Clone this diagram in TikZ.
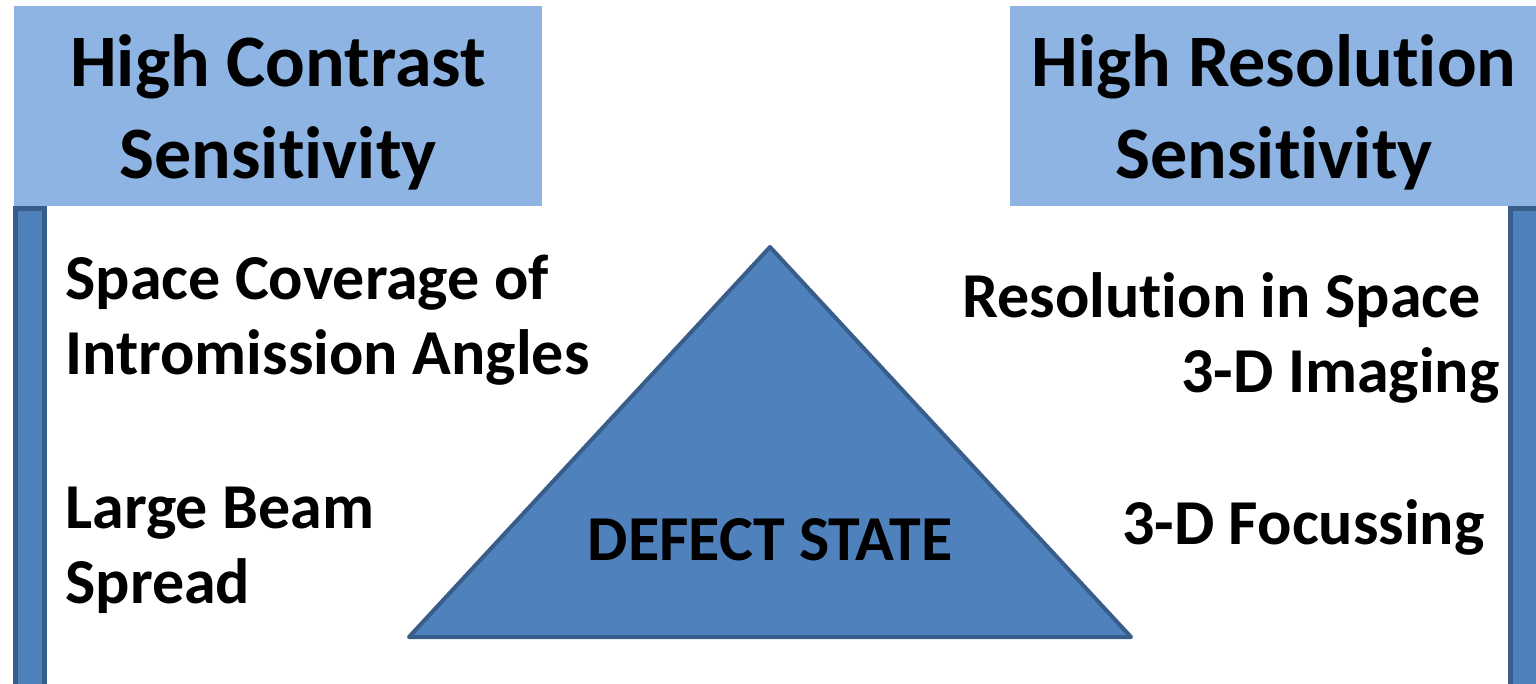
\documentclass[tikz,border=0pt]{standalone}
\usepackage{fontspec}
\setmainfont[Ligatures=NoCommon]{Carlito}
\usetikzlibrary{positioning}

\definecolor{headFill}{HTML}{8EB4E3}
\definecolor{shapeFill}{HTML}{4F81BD}
\definecolor{shapeBorder}{HTML}{385D8A}

\tikzset{
    headbox/.style={fill=headFill, draw=none, minimum width=264pt, minimum height=100pt,
        align=center, inner sep=0pt, font=\fontsize{37}{46}\selectfont\bfseries},
    bodytext/.style={inner sep=0pt, font=\fontsize{32}{37.5}\selectfont\bfseries},
    sidebar/.style={fill=shapeFill, draw=shapeBorder, line width=2.5pt}
}

\begin{document}
\begin{tikzpicture}[x=0.5pt, y=-0.5pt]
    % Fix the page size
    \useasboundingbox (0,0) rectangle (1536,684);
    \clip (0,0) rectangle (1536,684);

    % Header boxes
    \node[headbox] (contrast) at (278,106) {};
    \node[headbox] (resolution) at (1274,106) {};
    \node[headbox, fill=none] (contrastText) at (278,112) {High Contrast\\Sensitivity};
    \node[headbox, fill=none] (resolutionText) at (1274,112) {High Resolution\\Sensitivity};

    % Side bars
    \draw[sidebar] (15,209) rectangle (44,700);
    \draw[sidebar] (1510,209) rectangle (1545,700);

    % Triangle
    \coordinate (apex) at (770,247);
    \coordinate (baseL) at (409,637);
    \coordinate (baseR) at (1131,637);
    \draw[fill=shapeFill, draw=shapeBorder, line width=2pt, line join=round]
        (apex) -- (baseL) -- (baseR) -- cycle;
    \node[bodytext] (defect) at (770,540) {DEFECT STATE};

    % Left texts
    \node[bodytext, anchor=west, align=left] (coverage) at (65,320) {Space Coverage of\\Intromission Angles};
    \node[bodytext, anchor=west, align=left] (spread) at (65,550) {Large Beam\\Spread};

    % Right texts
    \node[bodytext, anchor=east, align=right] (space) at (1500,338) {Resolution in Space\hspace*{0.3em}\\3-D Imaging};
    \node[bodytext, anchor=east] (focus) at (1485,527) {3-D Focussing};
\end{tikzpicture}
\end{document}
